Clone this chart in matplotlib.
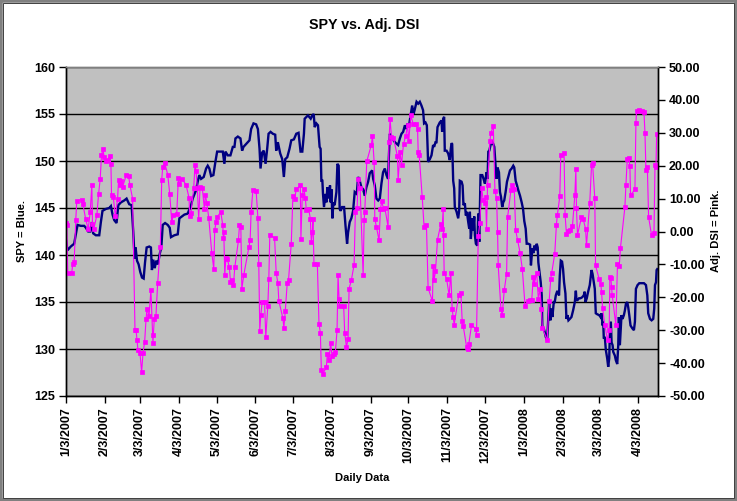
import numpy as np
import matplotlib
matplotlib.use("Agg")
import matplotlib.pyplot as plt
import matplotlib.dates as mdates
from matplotlib.patches import Rectangle
from matplotlib.ticker import FuncFormatter
from datetime import datetime

# ---------------- data (days after 2007-01-03) -------------
start_date = "2007-01-03"
end_day = 472

spy_days = [0, 1.2, 3.8, 6.5, 9.2, 11.8, 14.5, 15.8, 17.7, 19.3, 20.6, 21.7, 23.8, 26.5, 27.8,
            29.1, 31.8, 34.5, 35.8, 37.1, 38.5, 40.3, 41.7, 43.8, 46.4, 48.3, 50.4, 52.3, 53.6,
            54.7, 55.5, 56.6, 57.9, 59.2, 60.6, 61.9, 63.0, 64.3, 66.4, 67.7, 68.5, 69.6, 70.7,
            72.0, 73.3, 74.7, 76.0, 77.1, 79.0, 81.1, 82.7, 83.7, 86.4, 89.1, 90.4,
            94.4, 97.0, 99.7, 101.0, 103.7, 105.0, 106.3, 107.7, 109.8, 111.7, 113.0, 114.3,
            115.7, 117.5, 119.1, 120.5, 122.3, 125.0, 126.3, 127.1, 129.0, 131.1, 133.0, 134.3,
            135.1, 137.0, 139.1, 140.4, 141.5, 143.6, 146.3, 147.6, 149.5, 151.6, 153.0, 154.3,
            155.1, 156.4, 157.7, 159.1, 160.4, 161.5, 163.1, 164.9, 166.8, 167.6, 168.9, 170.8,
            172.4, 173.7, 174.8, 176.4, 178.2, 179.6, 181.7, 183.6, 185.4, 187.0,
            188.4, 189.7, 190.3, 192.9, 195.1, 196.4, 197.5, 198.3, 199.6, 200.9, 202.2, 203.0,
            203.6, 204.4, 204.9, 205.7, 206.8, 207.6, 208.4, 209.4, 210.5, 211.0, 211.6, 212.4,
            213.2, 214.2, 215.6, 216.4, 217.4, 218.2, 219.0, 220.1, 221.7, 222.8, 224.1, 224.9,
            226.2, 227.5, 228.9, 230.2, 231.8, 232.9, 234.2, 235.5, 236.9, 238.2, 239.5, 240.9,
            242.2, 244.1, 244.9, 246.2, 247.5, 248.9, 250.2, 251.5, 252.8, 254.2, 255.5, 256.8,
            257.4, 258.2, 259.5, 262.2, 264.8, 266.2, 267.5, 268.8, 270.2, 271.5, 272.3, 273.4,
            274.1, 274.9, 276.0, 277.1, 278.1, 279.5, 280.8, 282.1,
            283.4, 284.7, 285.5, 286.6, 287.7, 288.7, 290.1, 291.4, 292.7, 293.5, 294.6, 295.4,
            296.2, 298.0, 299.4, 299.9, 300.7, 301.5, 302.0, 303.4, 304.7, 306.0, 306.8, 307.4,
            307.9, 308.7, 309.5, 310.0, 311.4, 312.7, 313.5, 314.0, 315.4, 316.2, 316.9, 318.0,
            318.8, 319.6, 320.7, 321.5, 322.0, 322.8, 323.9, 324.7, 325.5, 326.0, 326.8, 327.9,
            328.7, 329.5, 330.5, 331.9, 332.9, 334.0, 335.3, 336.1, 336.7, 337.5, 338.5, 339.9,
            340.7, 341.5, 342.5, 343.3, 344.1, 345.2, 346.0, 346.8, 347.8, 348.6, 349.4, 350.5,
            351.6, 352.6, 354.0, 355.3, 356.6, 357.4, 358.5, 359.6, 360.6, 362.0, 363.3, 364.4,
            365.4, 366.5, 367.3, 368.6, 370.0, 370.7, 371.8, 372.6, 373.4, 374.5, 375.3, 376.1,
            376.6,
            378.5, 379.3, 379.8, 380.9, 381.7, 382.5, 383.6, 384.4, 385.2, 386.2, 387.0, 387.8,
            388.9, 389.7, 390.5, 391.5, 392.3, 393.1, 393.7, 394.5, 395.5, 396.3, 397.1, 398.2,
            399.0, 399.8, 400.6, 401.7, 403.0, 404.3, 405.7, 406.5, 407.0, 407.8, 409.1, 410.2,
            411.5, 412.8, 413.6, 414.2, 415.2, 416.3, 417.6, 419.0, 419.8, 420.8, 421.6, 422.4,
            423.5, 425.1, 426.2, 427.0, 427.8, 428.3, 428.8, 429.6, 430.4, 431.5, 432.3, 433.1,
            433.6, 434.4, 435.0, 435.8, 436.3, 437.6, 438.4, 439.5, 440.3, 440.8, 441.6, 442.4,
            442.9, 443.7, 444.8, 445.6, 446.4, 447.5, 448.3, 449.1, 450.1, 451.5, 452.8, 453.6,
            454.4, 455.7, 457.1, 458.9, 460.8, 462.4, 463.5, 464.2, 465.6, 466.9, 468.2, 469.0,
            469.6, 470.4, 470.9, 471.4]

spy_vals = [141.6, 140.5, 140.9, 141.2, 143.2, 143.1, 143.1, 142.9, 142.5, 142.5, 143.5, 142.3,
            142.1, 142.1, 143.5, 144.7, 144.9, 145.0, 145.2, 144.3, 143.7, 143.4, 145.3, 145.6,
            145.8, 146.0, 145.4, 145.3, 142.5, 139.6, 140.8, 139.4, 139.0, 138.2, 137.6, 137.5,
            139.2, 140.8, 140.9, 140.8, 138.4, 139.5, 138.6, 139.4, 139.0, 140.1, 140.8, 143.2,
            143.4, 143.2, 142.9, 141.9, 142.1, 142.2, 143.9,
            144.3, 144.4, 145.3, 146.0, 146.9, 147.8, 148.5, 148.1, 148.3, 149.2, 149.5, 149.2,
            148.4, 148.5, 149.9, 151.0, 151.0, 151.0, 149.7, 151.0, 150.6, 150.6, 151.5, 151.5,
            152.4, 152.6, 152.4, 151.1, 151.5, 151.8, 152.2, 153.4, 154.0, 153.9, 153.4, 151.3,
            149.2, 150.9, 151.1, 149.7, 151.3, 152.9, 153.1, 152.9, 152.8, 151.1, 152.0, 150.8,
            150.2, 148.3, 150.2, 150.4, 151.3, 152.2, 152.3, 152.9, 153.0, 151.0,
            151.0, 152.9, 154.5, 154.85, 154.5, 154.85, 155.0, 153.6, 154.0, 153.8, 151.5, 151.3,
            147.9, 147.9, 146.5, 145.1, 146.5, 145.6, 147.2, 146.0, 147.4, 145.6, 147.0, 143.9,
            145.6, 145.3, 146.7, 149.7, 149.5, 144.9, 144.7, 145.1, 145.1, 143.2, 141.2, 142.4,
            143.5, 143.9, 144.7, 146.7, 146.5, 148.3, 147.9, 147.2, 147.0, 146.3, 147.2, 147.8,
            148.7, 149.0, 148.1, 147.4, 146.0, 145.8, 146.0, 147.6, 148.8, 149.2, 148.5, 148.1,
            150.4, 152.9, 152.5, 152.0, 151.7, 152.4, 152.9, 153.1, 153.8, 153.4, 154.0, 153.6,
            154.3, 155.0, 155.9, 155.0, 155.5, 156.3, 156.1, 156.3,
            155.9, 155.4, 154.0, 154.1, 153.8, 149.9, 150.2, 150.6, 151.7, 151.5, 152.0, 152.0,
            153.6, 154.1, 154.3, 153.1, 154.5, 154.7, 151.1, 151.1, 150.8, 150.1, 151.3, 151.9,
            151.8, 147.9, 147.1, 145.1, 144.6, 143.9, 144.8, 147.9, 147.8, 147.4, 145.3, 145.5,
            144.2, 144.6, 143.5, 142.8, 144.6, 141.7, 143.9, 142.6, 144.1, 142.1, 141.2, 141.0,
            144.4, 141.4, 148.5, 148.5, 148.1, 147.6, 148.8, 148.1, 151.0, 151.1, 151.7, 152.0,
            151.8, 151.5, 149.5, 148.1, 149.3, 148.8, 146.7, 146.2, 145.1, 145.6, 145.8, 146.7,
            147.8, 148.3, 149.0, 149.2, 149.5, 149.3, 147.9, 147.4, 146.9, 146.3, 145.6, 144.9,
            143.6, 142.8, 141.2, 141.2, 141.1, 138.9, 140.7, 140.2, 141.0, 140.5, 141.2, 140.8,
            139.2,
            137.1, 135.7, 132.3, 132.2, 131.8, 131.3, 130.9, 132.9, 135.0, 133.05, 134.3, 133.4,
            135.0, 135.0, 135.7, 136.1, 136.1, 135.7, 137.8, 139.4, 139.3, 138.5, 137.1, 135.9,
            133.2, 133.6, 133.05, 133.2, 133.4, 134.1, 135.0, 136.2, 135.2, 135.2, 135.4, 135.4,
            135.5, 135.7, 136.1, 135.0, 135.4, 136.1, 136.8, 138.4, 138.0, 137.1, 136.4, 133.8,
            133.7, 133.6, 133.4, 133.8, 132.5, 132.9, 131.1, 131.3, 129.9, 129.0, 128.1, 129.0,
            131.5, 132.9, 130.7, 130.4, 129.7, 129.3, 128.8, 128.4, 130.4, 133.4, 130.4, 132.5,
            133.6, 133.2, 133.6, 134.1, 134.8, 135.0, 134.4, 133.6, 132.5, 132.2, 132.0, 132.9,
            136.4, 136.8, 137.0, 137.0, 137.0, 136.8, 135.7, 133.8, 133.2, 133.05, 133.2, 134.3,
            136.8, 137.1, 138.4, 138.5]

dsi_days = [0, 0.6, 1.4, 4.6, 5.4, 6.5, 7.8, 8.6, 12.4, 13.4, 15.6, 17.7, 19.3, 20.6, 21.1, 22.2,
            24.6, 26.0, 27.3, 28.3, 29.4, 30.5, 31.8, 33.4, 34.7, 35.8, 36.3, 37.7, 39.3, 41.1,
            41.9, 43.2, 44.0, 45.1, 48.0, 49.9, 51.0, 53.1, 55.0, 55.8, 56.6, 57.4, 59.0, 60.3,
            61.4, 62.7, 63.8, 64.6, 66.2, 67.7, 69.1, 69.3, 70.4, 71.7, 73.1, 75.2, 76.3, 77.1,
            78.7, 81.1, 82.7, 84.3, 85.6, 88.3, 89.6, 90.4, 92.3,
            95.7, 98.1, 98.6, 99.7, 101.8, 102.9, 103.7, 104.7, 105.8, 106.9, 108.7, 110.3, 111.1,
            112.2, 113.8, 116.2, 117.8, 118.6, 119.7, 120.5, 123.4, 125.0, 125.5, 125.8, 126.6,
            127.4, 128.4, 130.3, 131.1, 132.2, 133.5, 134.6, 137.5, 138.3, 139.4, 140.2, 141.8,
            145.8, 146.8, 147.6, 149.0, 151.6, 153.0, 153.7, 154.5, 155.3, 156.4, 158.3, 159.3,
            160.9, 161.7, 162.5, 166.3, 167.6, 168.9, 169.7, 172.9, 173.7, 174.8, 176.4, 177.4,
            179.6, 180.9, 182.2, 183.6, 186.8, 187.3, 188.4,
            189.7, 190.8, 191.6, 193.5, 194.8, 195.6, 196.4, 196.9, 197.7, 200.4, 201.7, 202.8,
            203.6, 204.9, 207.6, 208.4, 209.7, 211.0, 212.1, 213.4, 214.8, 216.1, 216.9, 217.7,
            218.2, 221.4, 222.2, 223.6, 224.9, 225.7, 227.5, 229.7, 230.7, 232.1, 232.9, 234.5,
            236.9, 237.7, 238.2, 239.8, 243.5, 244.3, 245.7, 246.2, 247.5, 249.6, 250.7, 251.8,
            253.1, 254.2, 256.8, 257.4, 258.4, 259.5, 261.1, 264.3, 264.8, 266.4, 267.5, 269.1,
            270.9, 272.3, 273.3, 274.9, 276.8, 278.7, 280.3, 280.8, 281.6, 284.0,
            285.5, 287.4, 288.7, 292.2, 292.7, 293.5, 294.6, 296.2, 298.8, 299.9, 300.7, 301.0,
            301.5, 303.4, 305.5, 306.8, 307.9, 308.7, 309.5, 313.2, 314.8, 315.9, 316.7, 319.4,
            320.7, 321.2, 323.3, 326.8, 327.3, 328.7, 330.0, 331.3, 332.7, 334.0, 334.5, 335.3,
            336.1, 338.0, 338.8, 340.7, 342.0, 343.3, 344.1, 344.6, 346.8, 347.8, 349.4, 351.3,
            352.1, 354.8, 355.8, 357.4, 358.5, 360.1, 362.0, 363.8, 366.0, 368.1, 370.0, 371.3,
            372.6, 373.4, 375.3, 376.6, 377.9,
            379.0, 379.8, 383.6, 385.2, 386.5, 387.3, 389.7, 391.0, 391.8, 393.7, 394.5, 397.1,
            397.9, 399.0, 400.3, 401.7, 403.8, 405.7, 406.5, 407.0, 407.8, 411.0, 412.3, 414.2,
            415.0, 417.6, 419.0, 419.8, 421.6, 422.2, 425.1, 426.4, 427.0, 427.8, 429.6, 431.8,
            433.1, 433.6, 434.4, 435.0, 435.5, 438.4, 439.7, 441.1, 442.1, 445.6, 446.4, 447.5,
            448.8, 449.6, 450.1, 453.6, 454.4, 454.9, 457.1, 458.9, 460.8, 461.6, 462.4, 463.5,
            464.5, 466.9, 468.8, 469.6, 470.4, 470.9]

dsi_vals = [2.6, 2.1, -12.7, -12.5, -9.8, -9.3, 3.6, 9.4, 9.7, 8.5, 3.9, 0.7, 5.9, 14.2, 2.4, 0.9,
            4.9, 11.5, 16.1, 23.2, 25.0, 22.6, 21.3, 21.8, 22.9, 20.6, 11.2, 10.5, 4.7, 9.8,
            15.6, 14.2, 15.3, 13.5, 17.1, 16.9, 14.0, 10.0, -30.0, -29.8, -33.1, -36.1, -37.0, -42.7,
            -36.9, -33.6, -26.7, -23.5, -25.8, -17.7, -31.6, -33.8, -26.5, -25.8, -15.6, -4.7, 15.6, 19.6,
            20.9, 17.3, 11.5, 2.9, 4.9, 5.4, 16.3, 14.5, 16.1,
            14.2, 10.2, 4.7, 5.7, 13.2, 20.3, 18.3, 13.2, 3.9, 13.5, 13.2, 6.9, 11.2,
            8.8, 4.2, -6.4, -11.3, 0.6, 2.9, 4.4, 5.9, 1.9, -1.9, -0.2, -13.3,
            -8.1, -8.3, -10.8, -15.3, -14.8, -16.2, -10.8, -2.7, 1.9, 1.4, -17.4, -13.1,
            -4.7, -2.7, 5.9, 12.6, 12.4, 4.1, -9.8, -30.1, -25.5, -21.4, -21.4, -32.1,
            -22.7, -14.5, -1.0, -2.0, -12.6, -15.6, -21.1, -26.3, -29.2, -24.3, -15.6, -14.8,
            -3.7, 10.8, 10.0, 12.8, 14.0, -2.2, 11.2,
            13.0, 10.2, 6.6, 6.9, 3.9, -3.2, -0.2, 3.9, -9.8, -9.8, -28.0, -30.8,
            -42.2, -43.2, -41.2, -37.1, -39.2, -33.8, -37.8, -37.1, -36.6, -30.0, -13.3, -20.4,
            -22.7, -22.7, -30.8, -35.1, -32.6, -17.4, -14.8, -10.1, 5.9, 7.2, 16.1, 13.2,
            -13.3, 3.4, 5.9, 21.3, 26.4, 29.0, 21.1, 3.9, 1.4, -2.7, 6.9, 9.2,
            6.9, 7.2, 1.4, 27.2, 34.1, 28.7, 28.4, 22.8, 15.6, 24.2, 20.3, 26.7,
            29.0, 32.3, 27.5, 35.5, 32.6, 32.8, 31.3, 24.2, 23.2, 10.5,
            1.4, 1.9, -17.2, -21.2, -10.5, -14.8, -12.0, -2.5, 2.2, 0.9, 6.7, -1.2,
            -12.5, -14.3, -19.4, -12.5, -23.7, -26.0, -28.3, -19.2, -18.6, -27.3, -28.7, -35.1,
            -35.8, -34.1, -28.5, -29.5, -31.4, -1.4, 2.7, 13.2, 9.5, 8.7, 10.5, 0.7,
            14.0, 27.5, 30.0, 32.1, 12.2, 10.2, -0.2, -10.3, -23.7, -25.3, -17.9, -12.8,
            4.4, 12.7, 14.2, 13.0, 0.4, -2.7, -6.4, -11.3, -22.6, -21.2, -20.9, -20.9,
            -13.8, -15.9, -12.5, -20.6, -17.4,
            -23.5, -29.2, -33.1, -21.2, -14.3, -12.5, -6.7, 2.1, 5.1, 10.7, 23.2, 24.0,
            5.1, -0.7, 0.2, 0.4, 1.7, 11.0, 19.1, 7.2, -1.0, 4.4, 3.9, 0.9,
            -4.2, 8.8, 20.1, 20.8, 10.2, -10.3, -14.5, -15.9, -18.4, -23.2, -28.5, -33.1,
            -30.0, -13.8, -14.1, -16.9, -19.4, -28.5, -9.8, -10.5, -4.9, 7.4, 14.0, 21.9,
            22.4, 19.8, 11.0, 12.8, 33.0, 36.7, 36.8, 36.5, 36.3, 30.0, 18.6, 19.6,
            4.4, -1.2, -0.5, 20.3, 19.6, 29.7]

left_ticks = [125, 130, 135, 140, 145, 150, 155, 160]
right_ticks = [-50, -40, -30, -20, -10, 0, 10, 20, 30, 40, 50]

title_text = "SPY vs. Adj. DSI"
left_label = "SPY = Blue."
right_label = "Adj. DSI = Pink."
x_label = "Daily Data"

# ---------------- figure ----------------
plt.rcParams['font.family'] = ['Liberation Sans', 'DejaVu Sans']
plt.rcParams['font.weight'] = 'bold'

fig = plt.figure(figsize=(7.37, 5.01), dpi=100)
fig.patch.set_facecolor('white')

ax = fig.add_axes([66 / 737, 1 - 396 / 501, 592 / 737, 329 / 501])
ax.set_facecolor('#C0C0C0')
ax2 = ax.twinx()
ax2.set_zorder(ax.get_zorder() + 1)
ax2.patch.set_visible(False)

base = mdates.date2num(datetime.strptime(start_date, "%Y-%m-%d"))
ax.plot(base + np.array(spy_days), spy_vals, color='#000080', lw=1.7, solid_joinstyle='miter')
ax2.plot(base + np.array(dsi_days), dsi_vals, color='#FF00FF', lw=0.8,
         marker='s', ms=3.3, mfc='#FF00FF', mec='#FF00FF', mew=0.5)

ax.set_xlim(base, base + end_day)
ax.set_ylim(125, 160)
ax2.set_ylim(-50, 50)

ax.set_yticks(left_ticks)
ax.set_yticklabels([str(v) for v in left_ticks])
ax2.set_yticks(right_ticks)
ax2.set_yticklabels([f"{v:.2f}" for v in right_ticks])

ax.yaxis.grid(True, color='black', lw=1.0)
ax.set_axisbelow(True)

ax.xaxis.set_major_locator(mdates.MonthLocator(bymonthday=3))


def fmt_date(x, pos=None):
    d = mdates.num2date(x)
    return f"{d.month}/{d.day}/{d.year}"


ax.xaxis.set_major_formatter(FuncFormatter(fmt_date))

for a in (ax, ax2):
    a.tick_params(direction='out', length=5, width=1, color='black', labelsize=9)
    for s in ('left', 'right', 'bottom'):
        a.spines[s].set_color('black')
        a.spines[s].set_linewidth(1)
    a.spines['top'].set_color('#808080')
    a.spines['top'].set_linewidth(1)

ax.tick_params(axis='x', labelrotation=90, pad=3)
ax.tick_params(axis='y', pad=3)
ax2.tick_params(axis='y', pad=3)

fig.text(364 / 737, 1 - 25 / 501, title_text, ha='center', va='center', fontsize=10.3, fontweight='bold')
fig.text(22 / 737, 1 - 231 / 501, left_label, ha='center', va='center', rotation=90, fontsize=8, fontweight='bold')
fig.text(716 / 737, 1 - 231 / 501, right_label, ha='center', va='center', rotation=90, fontsize=8, fontweight='bold')
fig.text(362 / 737, 1 - 478 / 501, x_label, ha='center', va='center', fontsize=8, fontweight='bold')

# chart-area border
fig.patches.append(Rectangle((0, 0), 1, 1, transform=fig.transFigure, fill=False,
                             edgecolor='#808080', lw=4.0))
fig.patches.append(Rectangle((3 / 737, 3 / 501), 1 - 6 / 737, 1 - 6 / 501, transform=fig.transFigure,
                             fill=False, edgecolor='#404040', lw=0.7))

fig.savefig("out.png", dpi=100)
